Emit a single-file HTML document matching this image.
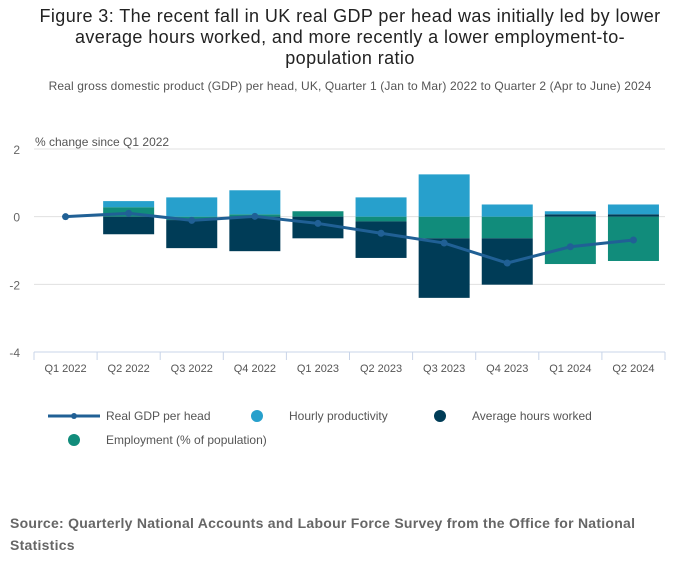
<!DOCTYPE html>
<html><head><meta charset="utf-8"><style>
body{margin:0;background:#fff;font-family:"Liberation Sans","DejaVu Sans",sans-serif;}
#wrap{position:relative;width:700px;height:574px;overflow:hidden;}
.t{position:absolute;white-space:nowrap;}
</style></head><body>
<div id="wrap">
<div class="t" style="left:0;width:700px;top:6px;text-align:center;font-size:18px;line-height:21px;color:#222;white-space:normal;letter-spacing:0.4px;">Figure 3: The recent fall in UK real GDP per head was initially led by lower<br>average hours worked, and more recently a lower employment-to-<br>population ratio</div>
<div class="t" style="left:0;width:700px;top:79px;text-align:center;font-size:12px;color:#555;letter-spacing:0.13px;">Real gross domestic product (GDP) per head, UK, Quarter 1 (Jan to Mar) 2022 to Quarter 2 (Apr to June) 2024</div>
<svg id="chart" width="700" height="574" style="position:absolute;left:0;top:0"></svg>
<div class="t" style="left:10px;top:512px;font-size:14px;line-height:22px;font-weight:bold;color:#666;white-space:normal;width:690px;letter-spacing:0.26px;">Source: Quarterly National Accounts and Labour Force Survey from the Office for National<br>Statistics</div>
</div>
<script>
const categories=["Q1 2022","Q2 2022","Q3 2022","Q4 2022","Q1 2023","Q2 2023","Q3 2023","Q4 2023","Q1 2024","Q2 2024"];
const gdpPerHead=[0,0.1,-0.11,0.01,-0.2,-0.49,-0.78,-1.37,-0.89,-0.69];
const productivity=[null,0.18,0.57,0.71,0,0.57,1.25,0.36,0.09,0.29];
const hours=[null,-0.52,-0.83,-1.02,-0.64,-1.08,-1.76,-1.37,0.07,0.07];
const employment=[null,0.28,-0.1,0.07,0.16,-0.14,-0.64,-0.64,-1.4,-1.31];
const yTicks=[2,0,-2,-4];
const NS="http://www.w3.org/2000/svg";
const svg=document.getElementById('chart');
const L=34,R=665,T=149,B=352,yMax=2,yMin=-4;
const n=categories.length,bw=(R-L)/n;
const y=v=>T+(yMax-v)*(B-T)/(yMax-yMin);
const xc=i=>L+bw*(i+0.5);
function mk(tag,attrs){const e=document.createElementNS(NS,tag);for(const k in attrs)e.setAttribute(k,attrs[k]);svg.appendChild(e);return e;}
yTicks.forEach(t=>{
 if(t>yMin){const g=mk('line',{x1:L,x2:R,y1:y(t),y2:y(t),stroke:'#e0e0e0','stroke-width':1});
 
 }
 const tx=mk('text',{x:20,y:y(t)+5,'text-anchor':'end','font-size':12,fill:'#666'});tx.textContent=t;
 
 
});
const yt=mk('text',{x:35,y:146,'font-size':12,fill:'#555'});yt.textContent='% change since Q1 2022';


const colors={emp:'#118c7b',hrs:'#003c57',prod:'#27a0cc'};
categories.forEach((c,i)=>{
 let pos=0,neg=0;
 [['emp',employment],['hrs',hours],['prod',productivity]].forEach(([k,arr])=>{
  const v=arr[i];if(v===null||v===0)return;
  let y0,y1;
  if(v>0){y0=pos;y1=pos+v;pos=y1;}else{y0=neg;y1=neg+v;neg=y1;}
  const r=mk('rect',{x:xc(i)-25.5,width:51,y:Math.min(y(y0),y(y1)),height:Math.abs(y(y1)-y(y0)),fill:colors[k]});
  
  
 });
 const lb=mk('text',{x:xc(i),y:372,'text-anchor':'middle','font-size':11,fill:'#555'});lb.textContent=c;
 
 
});
const ax=mk('line',{x1:L,x2:R,y1:B,y2:B,stroke:'#c8d4e8','stroke-width':1});


for(let i=0;i<=n;i++){const tk=mk('line',{x1:L+bw*i,x2:L+bw*i,y1:B,y2:B+8,stroke:'#c8d4e8'});
 
 }
const pl=mk('polyline',{points:gdpPerHead.map((v,i)=>xc(i)+','+y(v)).join(' '),fill:'none',stroke:'#206095','stroke-width':3});


gdpPerHead.forEach((v,i)=>{const p=mk('circle',{cx:xc(i),cy:y(v),r:3.5,fill:'#206095'});
 
 });
function leg(sym,x,yy,label,col){
 let s;
 if(sym==='line'){s=mk('line',{x1:x,x2:x+52,y1:yy,y2:yy,stroke:col,'stroke-width':3});mk('circle',{cx:x+26,cy:yy,r:3,fill:col});}
 else s=mk('circle',{cx:x+26,cy:yy,r:6,fill:col});
 
 
 const t=mk('text',{x:x+58,y:yy+4,'font-size':12,fill:'#555'});t.textContent=label;
 
 
}
leg('line',48,416,'Real GDP per head','#206095');
leg('dot',231,416,'Hourly productivity',colors.prod);
leg('dot',414,416,'Average hours worked',colors.hrs);
leg('dot',48,440,'Employment (% of population)',colors.emp);
</script>
</body></html>
